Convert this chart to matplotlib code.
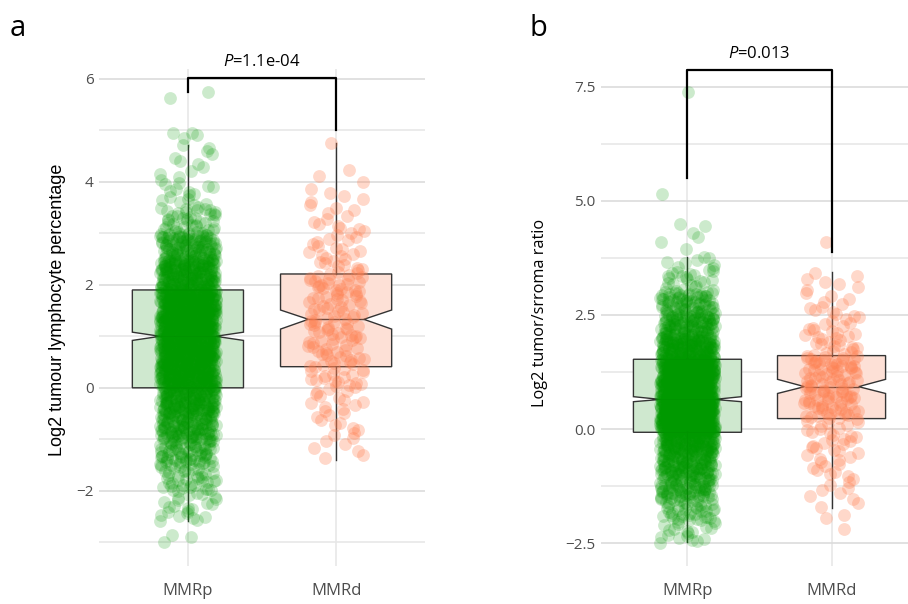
import numpy as np
import matplotlib
matplotlib.use("Agg")
import matplotlib.pyplot as plt

plt.rcParams['font.family'] = ['Open Sans', 'DejaVu Sans']
plt.rcParams['mathtext.fontset'] = 'custom'
plt.rcParams['mathtext.rm'] = 'Open Sans'
plt.rcParams['mathtext.it'] = 'Open Sans:italic'

groups = ['MMRp', 'MMRd']

# panel a: log2 tumour lymphocyte percentage, point density read as bin counts
a_p_edges = [-2.6, -2, -1.5, -1, -0.5, 0, 0.5, 1, 1.5, 1.9, 2.5, 3, 3.5, 4, 4.75]
a_p_counts = [24, 40, 75, 125, 170, 230, 245, 255, 200, 215, 110, 40, 16, 12]
a_p_extra = [-3.0, -2.9, -2.85, 4.85, 4.9, 4.95, 4.95, 5.62, 5.75]
a_d_edges = [-1.4, -1, -0.5, 0, 0.41, 0.9, 1.33, 1.8, 2.21, 2.7, 3.2, 3.8, 4.3]
a_d_counts = [6, 10, 14, 20, 25, 25, 25, 25, 18, 14, 11, 4]
a_d_extra = [4.76]
# whislo, q1, med, q3, whishi, cilo, cihi
a_box = [[-2.58, 0.0, 1.0, 1.90, 4.72, 0.92, 1.08],
         [-1.40, 0.41, 1.33, 2.21, 4.76, 1.14, 1.51]]
a_p_label = 'P=1.1e-04'

# panel b: log2 tumor/stroma ratio
b_p_edges = [-2.5, -2, -1.5, -1, -0.5, -0.07, 0.3, 0.65, 1.1, 1.53, 2, 2.5, 3, 3.5, 3.8]
b_p_counts = [20, 45, 90, 125, 150, 230, 230, 230, 220, 165, 115, 75, 24, 8]
b_p_extra = [3.95, 4.1, 4.2, 4.3, 4.45, 4.5, 5.15, 7.38]
b_d_edges = [-1.74, -1.5, -1, -0.5, 0.23, 0.6, 0.93, 1.3, 1.61, 2.2, 2.7, 3.45]
b_d_counts = [3, 8, 12, 24, 25, 25, 25, 25, 24, 13, 12]
b_d_extra = [-2.19, -1.95, -1.89, 4.1]
b_box = [[-2.47, -0.07, 0.65, 1.53, 3.78, 0.60, 0.71],
         [-1.74, 0.23, 0.93, 1.61, 3.45, 0.78, 1.09]]
b_p_label = 'P=0.013'

pt_colors = ['#009900', '#FF7F50']
pt_alpha = [0.2, 0.3]
box_fill = ['#cfe8cf', '#fde0d6']
edge = '#333333'


def expand(edges, counts, extra):
    vals = []
    for lo, hi, n in zip(edges[:-1], edges[1:], counts):
        for k in range(n):
            vals.append(lo + (k + 0.5) / n * (hi - lo))
    return np.array(vals + list(extra))


def vdc(n, base):
    # van der Corput spread, used only for the horizontal jitter
    out = np.zeros(len(n))
    for j, v in enumerate(n):
        f, r = 1.0, 0.0
        while v > 0:
            f /= base
            r += f * (v % base)
            v //= base
        out[j] = r
    return out


def panel(ax, data, box, ylim, yticks, yminor, ylabels, bracket, ptxt):
    for i, vals in enumerate(data):
        pos = i + 1
        s = box[i]
        st = dict(whislo=s[0], q1=s[1], med=s[2], q3=s[3], whishi=s[4],
                  cilo=s[5], cihi=s[6], fliers=[])
        ax.bxp([st], positions=[pos], widths=0.75, shownotches=True,
               showcaps=False, showfliers=False, patch_artist=True,
               boxprops=dict(facecolor=box_fill[i], edgecolor=edge, linewidth=1.0),
               medianprops=dict(color=edge, linewidth=1.0),
               whiskerprops=dict(color=edge, linewidth=1.0), zorder=2)
        idx = np.arange(len(vals))
        jit = ((vdc(idx, 2) + 0.5 * vdc(idx, 3) + 0.31 * i) % 1.0) * 2 - 1
        ax.scatter(pos + 0.19 * jit, vals, s=85, color=pt_colors[i],
                   alpha=pt_alpha[i], linewidths=0, zorder=3)
    ax.set_xlim(0.4, 2.6)
    ax.set_ylim(*ylim)
    ax.set_xticks([1, 2])
    ax.set_xticklabels(groups, fontsize=12, color='#4d4d4d')
    ax.set_yticks(yticks)
    ax.set_yticklabels(ylabels, fontsize=11, color='#4d4d4d')
    ax.set_yticks(yminor, minor=True)
    ax.tick_params(axis='both', which='both', length=0)
    ax.tick_params(axis='y', pad=4)
    ax.tick_params(axis='x', pad=12)
    ax.grid(axis='y', which='major', color='#d9d9d9', linewidth=1.1, zorder=0)
    ax.grid(axis='y', which='minor', color='#e6e6e6', linewidth=1.1, zorder=0)
    ax.grid(axis='x', which='major', color='#e6e6e6', linewidth=1.1, zorder=0)
    ax.set_axisbelow(True)
    for sp in ax.spines.values():
        sp.set_visible(False)
    top, lleg, rleg, ty = bracket
    ax.plot([1, 1, 2, 2], [lleg, top, top, rleg], color='black', linewidth=1.6,
            clip_on=False, zorder=4)
    ax.text(1.5, ty, r'$\it{P}$' + ptxt[1:], ha='center', va='center',
            fontsize=12, color='black', clip_on=False)


fig = plt.figure(figsize=(9.08, 6.04), dpi=100)
ax_a = fig.add_axes([99 / 908, 38 / 604, 326 / 908, 497 / 604])
ax_b = fig.add_axes([601 / 908, 38 / 604, 317 / 908, 497 / 604])

a_data = [expand(a_p_edges, a_p_counts, a_p_extra), expand(a_d_edges, a_d_counts, a_d_extra)]
b_data = [expand(b_p_edges, b_p_counts, b_p_extra), expand(b_d_edges, b_d_counts, b_d_extra)]

panel(ax_a, a_data, a_box, (-3.46, 6.19), [-2, 0, 2, 4, 6], [-3, -1, 1, 3, 5],
      ['\u22122', '0', '2', '4', '6'], (6.02, 5.75, 5.0, 6.32), a_p_label)
panel(ax_b, b_data, b_box, (-3.0, 7.89), [-2.5, 0, 2.5, 5, 7.5],
      [-1.25, 1.25, 3.75, 6.25], ['\u22122.5', '0.0', '2.5', '5.0', '7.5'],
      (7.87, 5.51, 3.87, 8.22), b_p_label)

fig.text(57 / 908, 1 - 310 / 604, 'Log2 tumour lymphocyte percentage', rotation=90,
         ha='center', va='center', fontsize=13, family='Liberation Sans')
fig.text(540 / 908, 1 - 313 / 604, 'Log2 tumor/srroma ratio', rotation=90,
         ha='center', va='center', fontsize=11.7)
fig.text(10 / 908, 1 - 36 / 604, 'a', fontsize=21, ha='left', va='baseline')
fig.text(530 / 908, 1 - 36 / 604, 'b', fontsize=21, ha='left', va='baseline')

fig.savefig('out.png', dpi=100)
